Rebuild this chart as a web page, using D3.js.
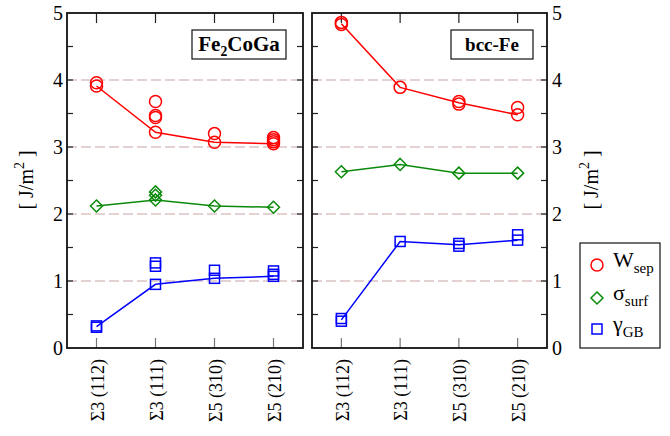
<!DOCTYPE html>
<html>
<head>
<meta charset="utf-8">
<script src="https://cdn.jsdelivr.net/npm/d3@7"></script>
<style>
  body { margin: 0; background: #fff; }
</style>
</head>
<body>
<svg id="chart" width="670" height="436"></svg>
<script>
// categories + tick values
const categories = ["Σ3 (112)", "Σ3 (111)", "Σ5 (310)", "Σ5 (210)"];
const yTicks = [0, 1, 2, 3, 4, 5];
const yMinorTicks = [0.5, 1.5, 2.5, 3.5, 4.5];
const gridValues = [1, 2, 3, 4];

// Fe2CoGa panel
const feWsepLine = [3.91, 3.22, 3.07, 3.05];
const feWsepPts = [[3.96, 3.91], [3.68, 3.47, 3.44, 3.22], [3.20, 3.07], [3.14, 3.11, 3.08, 3.05]];
const feSurfLine = [2.12, 2.21, 2.12, 2.10];
const feSurfPts = [[2.12], [2.33, 2.28, 2.21], [2.12], [2.10]];
const feGbLine = [0.32, 0.95, 1.04, 1.07];
const feGbPts = [[0.33, 0.31], [1.27, 1.22, 0.95], [1.16, 1.04], [1.15, 1.10, 1.07]];

// bcc-Fe panel
const bccWsepLine = [4.84, 3.89, 3.66, 3.48];
const bccWsepPts = [[4.86, 4.83], [3.89], [3.68, 3.64], [3.59, 3.48]];
const bccSurfLine = [2.63, 2.74, 2.61, 2.61];
const bccSurfPts = [[2.63], [2.74], [2.61], [2.61]];
const bccGbLine = [0.42, 1.59, 1.54, 1.61];
const bccGbPts = [[0.44, 0.40], [1.59], [1.56, 1.52], [1.69, 1.61]];

const RED = "#ff0000", GREEN = "#0a8a0a", BLUE = "#0000ff";
const FONT = '"Liberation Serif"';

const svg = d3.select("#chart");
const plotTop = 13, plotBottom = 348;
const y = d3.scaleLinear().domain([0, 5]).range([plotBottom, plotTop]);

// text helper, so every label gets the serif face
function addText(g, size) {
    return g.append("text").style("font-family", FONT).attr("font-size", size).attr("fill", "#000");
}

// symbol drawing
function drawMarker(g, kind, cx, cy, color) {
    if (kind === "circle") {
        g.append("circle").attr("cx", cx).attr("cy", cy).attr("r", 6)
            .attr("fill", "none").attr("stroke", color).attr("stroke-width", 1.5);
    } else if (kind === "diamond") {
        const s = 6;
        g.append("path")
            .attr("d", `M${cx},${cy - s}L${cx + s},${cy}L${cx},${cy + s}L${cx - s},${cy}Z`)
            .attr("fill", "none").attr("stroke", color).attr("stroke-width", 1.5);
    } else {
        const s = 5;
        g.append("rect").attr("x", cx - s).attr("y", cy - s).attr("width", 2 * s).attr("height", 2 * s)
            .attr("fill", "none").attr("stroke", color).attr("stroke-width", 1.5);
    }
}

function drawPanel(x0, x1, title, titleBox, series, labelsOnRight) {
    const x = d3.scalePoint().domain(categories).range([x0, x1]).padding(0.5);
    const g = svg.append("g");

    // dashed grid
    g.selectAll(".grid").data(gridValues).enter().append("line")
        .attr("x1", x0).attr("x2", x1)
        .attr("y1", d => y(d)).attr("y2", d => y(d))
        .attr("stroke", "#c9a3a3").attr("stroke-width", 1.2)
        .attr("stroke-dasharray", "10,4");

    // top & bottom category ticks (inside)
    categories.forEach(c => {
        g.append("line").attr("x1", x(c)).attr("x2", x(c)).attr("y1", plotTop).attr("y2", plotTop + 10)
            .attr("stroke", "#222").attr("stroke-width", 1.2);
        g.append("line").attr("x1", x(c)).attr("x2", x(c)).attr("y1", plotBottom).attr("y2", plotBottom - 10)
            .attr("stroke", "#777").attr("stroke-width", 1.2);
    });

    // y ticks on both sides, inside
    [x0, x1].forEach((xe, i) => {
        const dir = i === 0 ? 1 : -1;
        yTicks.concat(yMinorTicks).forEach(v => {
            if (v === 0 || v === 5) return;
            g.append("line").attr("x1", xe).attr("x2", xe + dir * 6)
                .attr("y1", y(v)).attr("y2", y(v))
                .attr("stroke", "#222").attr("stroke-width", 1.2);
        });
    });

    // lines and markers
    series.forEach(s => {
        const line = d3.line().x((d, i) => x(categories[i])).y(d => y(d));
        g.append("path").attr("d", line(s.line)).attr("fill", "none")
            .attr("stroke", s.color).attr("stroke-width", 1.5);
        s.pts.forEach((arr, i) => {
            arr.forEach(v => drawMarker(g, s.kind, x(categories[i]), y(v), s.color));
        });
    });

    // frame
    g.append("rect").attr("x", x0).attr("y", plotTop).attr("width", x1 - x0).attr("height", plotBottom - plotTop)
        .attr("fill", "none").attr("stroke", "#111").attr("stroke-width", 1.8);

    // y tick labels
    const lx = labelsOnRight ? x1 + 5 : x0 - 4;
    yTicks.forEach(v => {
        addText(g, 20).attr("x", lx).attr("y", y(v)).attr("dy", "0.35em")
            .attr("text-anchor", labelsOnRight ? "start" : "end")
            .text(v);
    });

    // x tick labels, rotated
    categories.forEach(c => {
        addText(g, 18)
            .attr("transform", `translate(${x(c) + 1},${plotBottom + 11}) rotate(-90)`)
            .attr("text-anchor", "end").attr("dy", "0.35em")
            .text(c);
    });

    // title box
    g.append("rect").attr("x", titleBox[0]).attr("y", 30).attr("width", titleBox[1] - titleBox[0]).attr("height", 29)
        .attr("fill", "#fff").attr("stroke", "#111").attr("stroke-width", 1.2);
    const t = addText(g, title.size).attr("x", (titleBox[0] + titleBox[1]) / 2).attr("y", 51)
        .attr("text-anchor", "middle").attr("font-weight", "bold");
    title.parts.forEach(p => {
        if (p.sub) {
            t.append("tspan").attr("dy", 5).attr("font-size", title.size * 0.65).text(p.t);
        } else {
            t.append("tspan").attr("dy", p.after ? -5 : 0).text(p.t);
        }
    });
}

drawPanel(67, 303,
    { size: 21, parts: [{ t: "Fe" }, { t: "2", sub: true }, { t: "CoGa", after: true }] },
    [192, 286],
    [
        { kind: "circle", color: RED, line: feWsepLine, pts: feWsepPts },
        { kind: "diamond", color: GREEN, line: feSurfLine, pts: feSurfPts },
        { kind: "square", color: BLUE, line: feGbLine, pts: feGbPts }
    ], false);

drawPanel(312, 547,
    { size: 19, parts: [{ t: "bcc-Fe" }] },
    [451, 533],
    [
        { kind: "circle", color: RED, line: bccWsepLine, pts: bccWsepPts },
        { kind: "diamond", color: GREEN, line: bccSurfLine, pts: bccSurfPts },
        { kind: "square", color: BLUE, line: bccGbLine, pts: bccGbPts }
    ], true);

// axis titles
function unitLabel(cx, cy) {
    const t = addText(svg, 20)
        .attr("transform", `translate(${cx},${cy}) rotate(-90)`)
        .attr("text-anchor", "middle");
    t.append("tspan").text("[ J/m");
    t.append("tspan").attr("dy", -9).attr("font-size", 14).text("2");
    t.append("tspan").attr("dy", 9).text(" ]");
}
unitLabel(33, 180);
unitLabel(598, 180);

// legend
const legendItems = [
    { kind: "circle", color: RED, main: "W", sub: "sep", ly: 265 },
    { kind: "diamond", color: GREEN, main: "σ", sub: "surf", ly: 298 },
    { kind: "square", color: BLUE, main: "γ", sub: "GB", ly: 329 }
];
const leg = svg.append("g");
leg.append("rect").attr("x", 580).attr("y", 243).attr("width", 80).attr("height", 105)
    .attr("fill", "#fff").attr("stroke", "#111").attr("stroke-width", 1.2);
legendItems.forEach(d => {
    drawMarker(leg, d.kind, 597, d.ly, d.color);
    const t = addText(leg, 22).attr("x", 613).attr("y", d.ly + 2);
    t.append("tspan").text(d.main);
    t.append("tspan").attr("dy", 6).attr("font-size", 15).text(d.sub);
});
</script>
</body>
</html>
